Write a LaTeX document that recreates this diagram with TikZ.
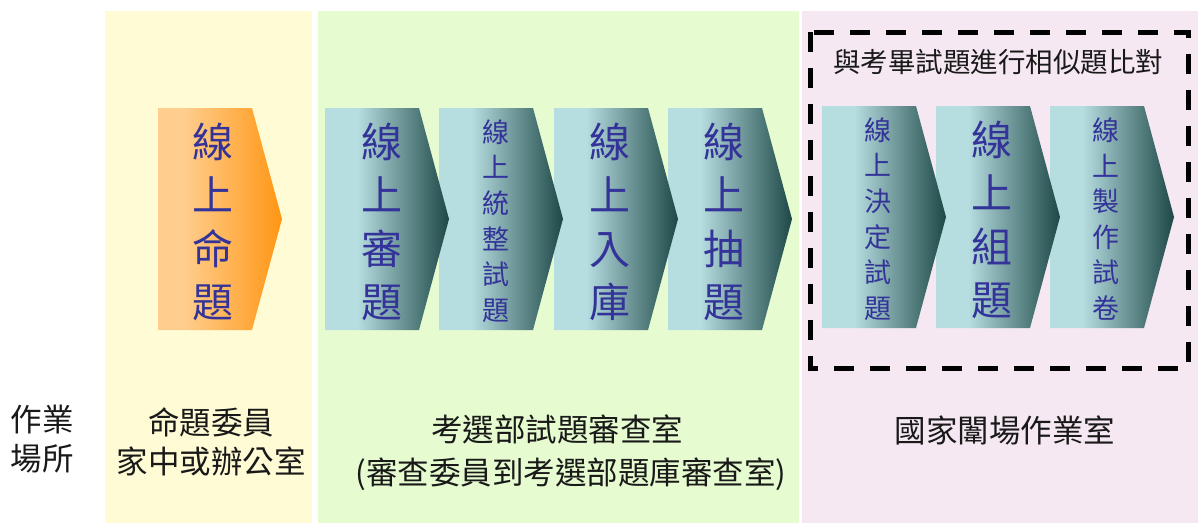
\documentclass[tikz,border=0pt]{standalone}
\usepackage{fontspec}
\setmainfont{Noto Sans CJK TC}
\definecolor{bgY}{RGB}{255,251,213}
\definecolor{bgG}{RGB}{230,252,208}
\definecolor{bgP}{RGB}{245,232,243}
\definecolor{orL}{RGB}{255,206,142}
\definecolor{orD}{RGB}{255,150,20}
\definecolor{tlL}{RGB}{182,221,224}
\definecolor{tlD}{RGB}{30,72,72}
\definecolor{ink}{RGB}{51,51,153}
\pgfdeclarehorizontalshading{orgrad}{100bp}{color(0bp)=(orL); color(25bp)=(orL); color(35bp)=(orL); color(75bp)=(orD); color(100bp)=(orD)}
\pgfdeclarehorizontalshading{tlgrad}{100bp}{color(0bp)=(tlL); color(25bp)=(tlL); color(38bp)=(tlL); color(75bp)=(tlD); color(100bp)=(tlD)}
\newcommand{\chevshape}[3]{%
  \path[shading=#3] (#1,#2) -- ++(94,0) -- ++(30,111) -- ++(-30,111) -- ++(-94,0) -- cycle;}
\tikzset{
  bigtxt/.style={text=ink, align=center, inner sep=0pt, font=\fontsize{41}{53.5}\selectfont},
  smalltxt/.style={text=ink, align=center, inner sep=0pt, font=\fontsize{27}{35.6}\selectfont},
  lbl/.style={text=black!90, align=center, inner sep=0pt, font=\fontsize{31.5}{39}\selectfont},
  dashbox/.style={draw=black, line width=5pt, dash pattern=on 20pt off 16pt}
}
\begin{document}
\begin{tikzpicture}[x=1pt,y=-1pt]
\useasboundingbox (0,0) rectangle (1198,523);
% background columns
\fill[bgY] (105,11) rectangle (312,523);
\fill[bgG] (318,11) rectangle (799,523);
\fill[bgP] (802,11) rectangle (1198,523);
% dashed frame
\draw[dashbox] (810,32) rectangle (1188,368);
\node[lbl, font=\fontsize{27.5}{35}\selectfont] (cmp) at (998,62) {與考畢試題進行相似題比對};
% chevrons (drawn right to left so earlier tips lie on top)
\chevshape{1050}{106}{tlgrad}
\chevshape{936}{106}{tlgrad}
\chevshape{822}{106}{tlgrad}
\chevshape{668}{108}{tlgrad}
\chevshape{554}{108}{tlgrad}
\chevshape{439}{108}{tlgrad}
\chevshape{325}{108}{tlgrad}
\chevshape{158}{108}{orgrad}
% chevron texts
\node[bigtxt] (t1) at (213,222) {線\\上\\命\\題};
\node[bigtxt] (t2) at (382,222) {線\\上\\審\\題};
\node[smalltxt] (t3) at (496,221) {線\\上\\統\\整\\試\\題};
\node[bigtxt] (t4) at (610,222) {線\\上\\入\\庫};
\node[bigtxt] (t5) at (724,222) {線\\上\\抽\\題};
\node[smalltxt] (t6) at (878,219) {線\\上\\決\\定\\試\\題};
\node[bigtxt] (t7) at (992,220) {線\\上\\組\\題};
\node[smalltxt] (t8) at (1106,219) {線\\上\\製\\作\\試\\卷};
% place labels
\node[lbl] (place) at (42,439) {作業\\場所};
\node[lbl] (home) at (211,442) {命題委員\\家中或辦公室};
\node[lbl] (moe1) at (557,429) {考選部試題審查室};
\node[lbl] (moe2) at (571,474) {(審查委員到考選部題庫審查室)};
\node[lbl] (nat) at (1005,430) {國家闈場作業室};
\end{tikzpicture}
\end{document}
